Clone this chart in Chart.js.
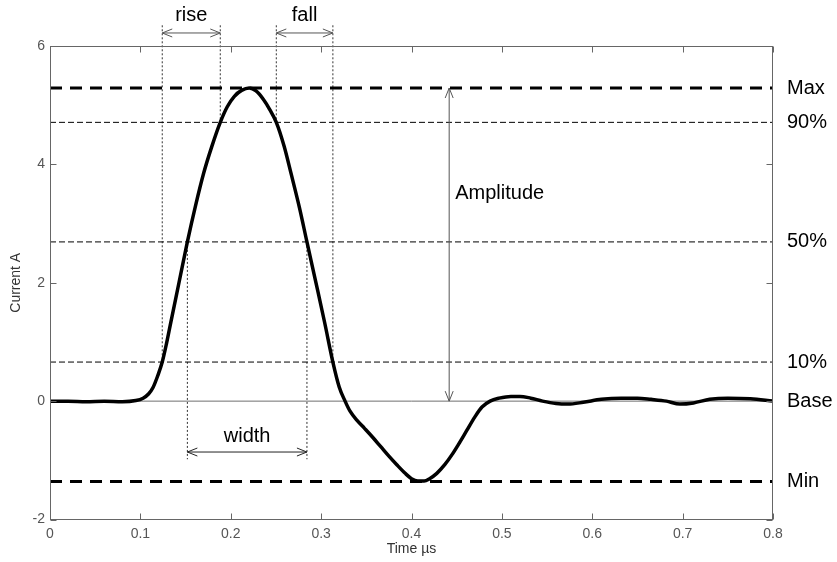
<!DOCTYPE html>
<html>
<head>
<meta charset="utf-8">
<script src="https://cdn.jsdelivr.net/npm/chart.js@4.4.1/dist/chart.umd.min.js"></script>
<style>
  body { margin: 0; background: #fff; }
  #wrap { width: 837px; height: 562px; }
</style>
</head>
<body>
<div id="wrap"><canvas id="pulse-chart"></canvas></div>
<script>
// Pulse data (time in µs, current in A)
const timeUs = [
  0, 0.02, 0.04, 0.06, 0.08, 0.095, 0.103, 0.109, 0.114, 0.119, 0.1242, 0.129,
  0.133, 0.1427, 0.152, 0.161, 0.170, 0.179, 0.1884, 0.196, 0.204, 0.212, 0.2205,
  0.228, 0.236, 0.243, 0.2504, 0.259, 0.267, 0.276, 0.2843, 0.294, 0.304, 0.313,
  0.320, 0.3265, 0.332, 0.340, 0.348, 0.357, 0.366, 0.375, 0.384, 0.393, 0.400, 0.407,
  0.414, 0.420, 0.428, 0.437, 0.445, 0.452, 0.461, 0.470, 0.478, 0.487, 0.497,
  0.510, 0.520, 0.532, 0.545, 0.560, 0.573, 0.590, 0.610, 0.632, 0.650, 0.665,
  0.682, 0.697, 0.712, 0.730, 0.750, 0.775, 0.800
];
const currentA = [
  0, 0, -0.01, 0, -0.01, 0.01, 0.05, 0.12, 0.23, 0.42, 0.66, 0.98,
  1.28, 2.0, 2.69, 3.3, 3.85, 4.3, 4.71, 4.97, 5.15, 5.25, 5.29,
  5.24, 5.10, 4.93, 4.71, 4.31, 3.83, 3.27, 2.69, 2.02, 1.32, 0.66,
  0.24, 0, -0.17, -0.33, -0.46, -0.61, -0.77, -0.93, -1.08, -1.22, -1.31, -1.35,
  -1.35, -1.31, -1.22, -1.07, -0.9, -0.73, -0.5, -0.27, -0.1, 0.0, 0.05,
  0.08, 0.08, 0.05, 0.0, -0.04, -0.05, -0.02, 0.03, 0.05, 0.05, 0.03,
  0.0, -0.05, -0.03, 0.03, 0.05, 0.04, 0
];

// Reference levels (A)
const levelNames = ['Max', '90%', '50%', '10%', 'Base', 'Min'];
const levelValues = [5.29, 4.71, 2.69, 0.66, 0, -1.36];

// Timing markers (µs)
const riseSpan = [0.1242, 0.1884];
const fallSpan = [0.2504, 0.3130];
const widthSpan = [0.1520, 0.2843];
const amplitudeTime = 0.4417;
const markerTop = 6.35;
const spanArrowLevel = 6.22;
const widthArrowLevel = -0.86;
const widthMarkerBottom = -0.98;
const amplitudeLabelLevel = 3.5;

// Axis ticks
const xTickValues = [0, 0.1, 0.2, 0.3, 0.4, 0.5, 0.6, 0.7, 0.8];
const xTickLabels = ['0', '0.1', '0.2', '0.3', '0.4', '0.5', '0.6', '0.7', '0.8'];
const yTickValues = [-2, 0, 2, 4, 6];
const yTickLabels = ['-2', '0', '2', '4', '6'];

const FONT = "'Liberation Sans', Arial, sans-serif";

function level(name) {
  return levelValues[levelNames.indexOf(name)];
}

// Build datasets
const curveData = timeUs.map((t, i) => ({ x: t, y: currentA[i] }));

const levelDatasets = levelNames.map((name, i) => {
  const isBase = name === 'Base';
  const isThick = name === 'Max' || name === 'Min';
  return {
    data: [{ x: 0, y: levelValues[i] }, { x: 0.8, y: levelValues[i] }],
    borderColor: isBase ? '#6e6e6e' : '#000',
    borderWidth: isThick ? 3 : 1,
    borderDash: isBase ? [] : (isThick ? [12, 8] : [6, 3]),
    pointRadius: 0
  };
});

const markerLines = [
  [riseSpan[0], markerTop, level('10%')],
  [riseSpan[1], markerTop, level('90%')],
  [fallSpan[0], markerTop, level('90%')],
  [fallSpan[1], markerTop, level('10%')],
  [widthSpan[0], level('50%'), widthMarkerBottom],
  [widthSpan[1], level('50%'), widthMarkerBottom]
];
const markerDatasets = markerLines.map(m => ({
  data: [{ x: m[0], y: m[1] }, { x: m[0], y: m[2] }],
  borderColor: '#333',
  borderWidth: 1,
  borderDash: [2, 2],
  pointRadius: 0,
  clip: false
}));

// Arrow helper
function drawArrow(ctx, x1, y1, x2, y2) {
  const ang = Math.atan2(y2 - y1, x2 - x1);
  const head = (px, py, a) => {
    ctx.moveTo(px + 10 * Math.cos(a) - 4 * Math.sin(a), py + 10 * Math.sin(a) + 4 * Math.cos(a));
    ctx.lineTo(px, py);
    ctx.lineTo(px + 10 * Math.cos(a) + 4 * Math.sin(a), py + 10 * Math.sin(a) - 4 * Math.cos(a));
  };
  ctx.beginPath();
  ctx.moveTo(x1, y1);
  ctx.lineTo(x2, y2);
  head(x1, y1, ang);
  head(x2, y2, ang + Math.PI);
  ctx.stroke();
}

// Frame, inward ticks, arrows and labels
const annotationPlugin = {
  id: 'pulseAnnotations',
  afterDatasetsDraw(chart) {
    const { ctx, chartArea: a, scales: { x, y } } = chart;
    ctx.save();

    // box + ticks
    ctx.strokeStyle = '#666';
    ctx.lineWidth = 1;
    const L = Math.round(a.left) + 0.5, R = Math.round(a.right) - 0.5;
    const T = Math.round(a.top) + 0.5, B = Math.round(a.bottom) - 0.5;
    ctx.strokeRect(L, T, R - L, B - T);
    ctx.beginPath();
    xTickValues.forEach(v => {
      const px = Math.round(x.getPixelForValue(v)) + 0.5;
      ctx.moveTo(px, B); ctx.lineTo(px, B - 6);
      ctx.moveTo(px, T); ctx.lineTo(px, T + 6);
    });
    yTickValues.forEach(v => {
      const py = Math.round(y.getPixelForValue(v)) + 0.5;
      ctx.moveTo(L, py); ctx.lineTo(L + 6, py);
      ctx.moveTo(R, py); ctx.lineTo(R - 6, py);
    });
    ctx.stroke();

    // arrows
    ctx.strokeStyle = '#555';
    const spanY = y.getPixelForValue(spanArrowLevel);
    drawArrow(ctx, x.getPixelForValue(riseSpan[0]), spanY, x.getPixelForValue(riseSpan[1]), spanY);
    drawArrow(ctx, x.getPixelForValue(fallSpan[0]), spanY, x.getPixelForValue(fallSpan[1]), spanY);
    ctx.strokeStyle = '#222';
    const wY = y.getPixelForValue(widthArrowLevel);
    drawArrow(ctx, x.getPixelForValue(widthSpan[0]), wY, x.getPixelForValue(widthSpan[1]), wY);
    ctx.strokeStyle = '#555';
    const ampX = x.getPixelForValue(amplitudeTime);
    drawArrow(ctx, ampX, y.getPixelForValue(level('Max')), ampX, y.getPixelForValue(level('Base')));

    // text
    ctx.fillStyle = '#000';
    ctx.font = '20px ' + FONT;
    ctx.textBaseline = 'middle';
    ctx.textAlign = 'center';
    ctx.fillText('rise', x.getPixelForValue((riseSpan[0] + riseSpan[1]) / 2), spanY - 17);
    ctx.fillText('fall', x.getPixelForValue((fallSpan[0] + fallSpan[1]) / 2), spanY - 17);
    ctx.fillText('width', x.getPixelForValue((widthSpan[0] + widthSpan[1]) / 2), wY - 16);
    ctx.textAlign = 'left';
    ctx.fillText('Amplitude', ampX + 6, y.getPixelForValue(amplitudeLabelLevel));
    levelNames.forEach((name, i) => {
      ctx.fillText(name, a.right + 14, y.getPixelForValue(levelValues[i]));
    });
    ctx.restore();
  }
};

new Chart(document.getElementById('pulse-chart'), {
  type: 'line',
  data: {
    datasets: [{
      data: curveData,
      borderColor: '#000',
      borderWidth: 3.5,
      pointRadius: 0,
      cubicInterpolationMode: 'monotone'
    }, ...levelDatasets, ...markerDatasets]
  },
  options: {
    responsive: true,
    maintainAspectRatio: false,
    animation: false,
    layout: { padding: { top: 46, right: 64, bottom: 0, left: 0 } },
    plugins: { legend: { display: false }, tooltip: { enabled: false } },
    scales: {
      x: {
        type: 'linear',
        min: 0,
        max: 0.8,
        afterBuildTicks: scale => { scale.ticks = xTickValues.map(v => ({ value: v })); },
        afterFit: scale => { scale.height = 42.5; },
        ticks: {
          callback: (v, i) => xTickLabels[i],
          color: '#555',
          font: { family: FONT, size: 14 },
          padding: 6,
          maxRotation: 0
        },
        grid: { display: false, drawTicks: false },
        border: { display: false },
        title: {
          display: true,
          text: 'Time µs',
          color: '#333',
          font: { family: FONT, size: 14 },
          padding: { top: 0, bottom: 4 }
        }
      },
      y: {
        min: -2,
        max: 6,
        afterBuildTicks: scale => { scale.ticks = yTickValues.map(v => ({ value: v })); },
        afterFit: scale => { scale.width = 50; },
        ticks: {
          callback: (v, i) => yTickLabels[i],
          color: '#555',
          font: { family: FONT, size: 14 },
          padding: 5
        },
        grid: { display: false, drawTicks: false },
        border: { display: false },
        title: {
          display: true,
          text: 'Current A',
          color: '#333',
          font: { family: FONT, size: 14 },
          padding: { top: 8, bottom: 0 }
        }
      }
    }
  },
  plugins: [annotationPlugin]
});
</script>
</body>
</html>
